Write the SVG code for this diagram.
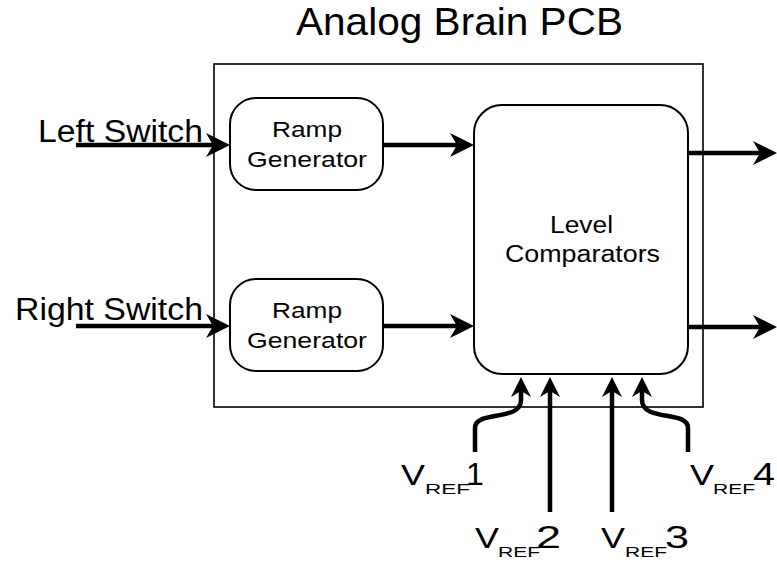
<svg xmlns="http://www.w3.org/2000/svg" width="777" height="563" viewBox="0 0 777 563">
<style>
  text { font-family: "Liberation Sans", Arial, sans-serif; fill: #000; }
  .box { fill: #fff; stroke: #000; stroke-width: 2; }
  .outer { fill: #fff; stroke: #000; stroke-width: 1.6; }
  .wire { fill: none; stroke: #000; stroke-width: 4.5; }
</style>
<defs>
  <marker id="ah" markerUnits="userSpaceOnUse" viewBox="0 0 24 24" refX="14" refY="12" markerWidth="24" markerHeight="24" orient="auto">
    <path d="M0,0 L24,12 L0,24 L7,12 Z" fill="#000"/>
  </marker>
  <marker id="ahs" markerUnits="userSpaceOnUse" viewBox="0 0 20 20" refX="10" refY="10" markerWidth="20" markerHeight="20" orient="auto">
    <path d="M0,0 L20,10 L0,20 L6,10 Z" fill="#000"/>
  </marker>
</defs>
<rect width="777" height="563" fill="#fff"/>

<g id="pcb">
  <rect class="outer" x="214" y="64" width="489" height="343"/>
  <text x="296" y="35" font-size="39" textLength="327" lengthAdjust="spacingAndGlyphs">Analog Brain PCB</text>
</g>

<g id="ramp1">
  <rect class="box" x="230" y="98" width="153" height="92" rx="26" ry="26"/>
  <text x="272" y="137" font-size="22" textLength="70" lengthAdjust="spacingAndGlyphs">Ramp</text>
  <text x="247" y="167" font-size="22" textLength="120" lengthAdjust="spacingAndGlyphs">Generator</text>
</g>

<g id="ramp2">
  <rect class="box" x="230" y="279" width="153" height="92" rx="26" ry="26"/>
  <text x="272" y="318" font-size="22" textLength="70" lengthAdjust="spacingAndGlyphs">Ramp</text>
  <text x="247" y="348" font-size="22" textLength="120" lengthAdjust="spacingAndGlyphs">Generator</text>
</g>

<g id="comparators">
  <rect class="box" x="474" y="105" width="214" height="269" rx="28" ry="28"/>
  <text x="550" y="233" font-size="23" textLength="63" lengthAdjust="spacingAndGlyphs">Level</text>
  <text x="505" y="262" font-size="23" textLength="155" lengthAdjust="spacingAndGlyphs">Comparators</text>
</g>

<g id="connectors">
  <path class="wire" d="M76,145 L220,145" marker-end="url(#ah)"/>
  <path class="wire" d="M76,326 L220,326" marker-end="url(#ah)"/>
  <path class="wire" d="M383,145 L464,145" marker-end="url(#ah)"/>
  <path class="wire" d="M383,326 L464,326" marker-end="url(#ah)"/>
  <path class="wire" d="M688,153 L767,153" marker-end="url(#ah)"/>
  <path class="wire" d="M688,327 L767,327" marker-end="url(#ah)"/>
  <path class="wire" d="M475,452 L475,428 C475,410 521,422 521,400 L521,387" marker-end="url(#ahs)"/>
  <path class="wire" d="M550,512 L550,387" marker-end="url(#ahs)"/>
  <path class="wire" d="M612,512 L612,387" marker-end="url(#ahs)"/>
  <path class="wire" d="M688,452 L688,428 C688,410 642,422 642,400 L642,387" marker-end="url(#ahs)"/>
</g>

<g id="labels">
  <text x="38" y="142" font-size="31" textLength="165" lengthAdjust="spacingAndGlyphs">Left Switch</text>
  <text x="15" y="320" font-size="31" textLength="188" lengthAdjust="spacingAndGlyphs">Right Switch</text>
</g>

<g id="vref1">
  <text x="401" y="485" font-size="30" textLength="24" lengthAdjust="spacingAndGlyphs">V</text>
  <text x="425" y="494" font-size="15" textLength="45" lengthAdjust="spacingAndGlyphs">REF</text>
  <text x="466" y="485" font-size="32">1</text>
</g>
<g id="vref2">
  <text x="475" y="548" font-size="30" textLength="24" lengthAdjust="spacingAndGlyphs">V</text>
  <text x="498" y="557" font-size="15" textLength="42" lengthAdjust="spacingAndGlyphs">REF</text>
  <text x="536" y="548" font-size="32" textLength="25" lengthAdjust="spacingAndGlyphs">2</text>
</g>
<g id="vref3">
  <text x="601" y="548" font-size="30" textLength="24" lengthAdjust="spacingAndGlyphs">V</text>
  <text x="625" y="557" font-size="15" textLength="42" lengthAdjust="spacingAndGlyphs">REF</text>
  <text x="665" y="548" font-size="32" textLength="24" lengthAdjust="spacingAndGlyphs">3</text>
</g>
<g id="vref4">
  <text x="690" y="485" font-size="30" textLength="24" lengthAdjust="spacingAndGlyphs">V</text>
  <text x="713" y="494" font-size="15" textLength="42" lengthAdjust="spacingAndGlyphs">REF</text>
  <text x="753" y="485" font-size="32" textLength="22" lengthAdjust="spacingAndGlyphs">4</text>
</g>
</svg>
